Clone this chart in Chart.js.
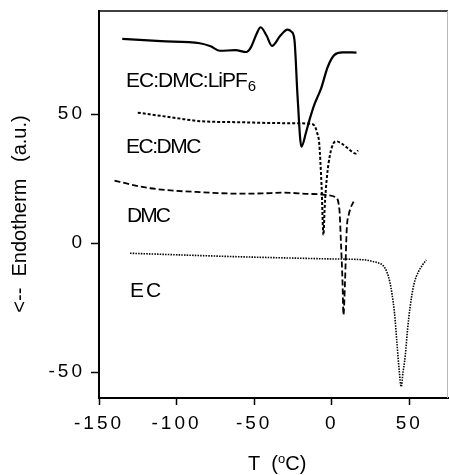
<!DOCTYPE html>
<html>
<head>
<meta charset="utf-8">
<script src="https://cdn.jsdelivr.net/npm/chart.js@4"></script>
<style>
  html, body { margin: 0; padding: 0; background: #fff; }
  #wrap { width: 449px; height: 475px; position: relative; }
</style>
</head>
<body>
<div id="wrap"><canvas id="dsc"></canvas></div>
<script>
// DSC traces, temperature in degC vs heat flow (a.u.)
var lipfT = [-135, -110, -85, -78, -72, -62, -55, -52, -48.5, -45.8, -42, -38.5, -33, -28.5, -26, -24, -22, -19.5, -16.5, -14.3, -11, -9, -6.8, -2.5, 1.8, 7, 16];
var lipfQ = [79.2, 78.3, 77.5, 76.3, 74.6, 74.8, 74.1, 76, 81, 83.7, 80.5, 76.5, 80.5, 82.8, 82, 78.8, 57, 37.4, 43, 47.8, 54, 56.8, 60, 68.4, 73, 74, 73.9];

var ecDmcT = [-125, -100, -85, -60, -40, -25, -14, -11, -9.5, -8, -6.5, -5.3, -4.5, -3, -1, 1, 3, 6, 10, 15.5, 17];
var ecDmcQ = [50.6, 48.5, 47.3, 46.9, 46.6, 46.5, 46.3, 45.5, 43, 38.5, 22, 3.2, 14, 26, 34.5, 38.5, 39.5, 38.8, 37, 34.8, 36];

var dmcT = [-140, -130, -117, -100, -85, -60, -45, -31, -15, -8, -2, 2.5, 5, 6, 7, 7.6, 8.6, 9.7, 11, 14.6];
var dmcQ = [24.3, 22.8, 21.3, 20.3, 19.8, 19.2, 19.3, 19.6, 19.1, 19, 18.6, 17.8, 13, 0, -15, -27.8, -15, 5.3, 11, 16.8];

var ecT = [-130, -100, -63, -30, 0, 22, 26.5, 30, 33, 35.5, 37.5, 39, 40.5, 42, 43.5, 44.8, 46, 47.4, 49, 50.5, 53, 56, 58.5, 61];
var ecQ = [-3.9, -4.5, -5.2, -5.7, -6.1, -6.5, -7.1, -7.6, -8.6, -11, -15, -20, -27, -38, -49, -55.6, -50, -43.9, -33, -25, -16, -11, -8.5, -6.5];

var xTicks = [-150, -100, -50, 0, 50];
var yTicks = [-50, 0, 50];

var FONT = '"Liberation Sans", Arial, Helvetica, sans-serif';

function pts(xs, ys) {
  return xs.map(function (x, i) { return { x: x, y: ys[i] }; });
}

// curve labels drawn beside the traces
var curveLabels = [
  { text: 'EC:DMC:LiPF', sub: '6', x: 126, y: 87, spacing: -1 },
  { text: 'EC:DMC', x: 126, y: 153, spacing: -1.5 },
  { text: 'DMC', x: 127, y: 222, spacing: -2 },
  { text: 'EC', x: 130, y: 297, spacing: 2 }
];

var frameAndText = {
  id: 'frameAndText',
  beforeDraw: function (chart) {
    chart.ctx.letterSpacing = '3px';
  },
  afterDraw: function (chart) {
    var ctx = chart.ctx, a = chart.chartArea;
    ctx.save();
    ctx.letterSpacing = '0px';
    // top and right edge of the frame
    ctx.strokeStyle = '#000';
    ctx.lineWidth = 1.5;
    ctx.beginPath();
    ctx.moveTo(a.left, a.top);
    ctx.lineTo(a.right, a.top);
    ctx.stroke();
    ctx.strokeStyle = '#bbb';
    ctx.lineWidth = 1;
    ctx.beginPath();
    ctx.moveTo(a.right - 0.5, a.top);
    ctx.lineTo(a.right - 0.5, a.bottom);
    ctx.stroke();

    ctx.fillStyle = '#000';
    ctx.textBaseline = 'alphabetic';
    ctx.textAlign = 'left';
    curveLabels.forEach(function (l) {
      ctx.font = '21px ' + FONT;
      ctx.letterSpacing = l.spacing + 'px';
      ctx.fillText(l.text, l.x, l.y);
      if (l.sub) {
        var w = ctx.measureText(l.text).width;
        ctx.font = '15px ' + FONT;
        ctx.letterSpacing = '0px';
        ctx.fillText(l.sub, l.x + w + 1, l.y + 4);
      }
    });

    // x axis title with superscript degree mark
    ctx.letterSpacing = '0px';
    ctx.font = '20px ' + FONT;
    var x = 248, base = 470;
    ctx.fillText('T  (', x, base);
    x += ctx.measureText('T  (').width;
    ctx.font = '13px ' + FONT;
    ctx.fillText('o', x, base - 7);
    x += ctx.measureText('o').width;
    ctx.font = '20px ' + FONT;
    ctx.fillText('C)', x, base);

    // y axis title
    ctx.translate(26, 214);
    ctx.rotate(-Math.PI / 2);
    ctx.textAlign = 'center';
    ctx.fillText('<--  Endotherm   (a.u.)', 0, 0);
    ctx.restore();
  }
};

function line(data, width, dash) {
  return {
    data: data,
    borderColor: '#000',
    borderWidth: width,
    borderDash: dash,
    pointRadius: 0,
    fill: false,
    cubicInterpolationMode: 'monotone'
  };
}

new Chart(document.getElementById('dsc'), {
  type: 'line',
  data: {
    datasets: [
      line(pts(lipfT, lipfQ), 2.2, []),
      line(pts(ecDmcT, ecDmcQ), 2, [3, 2]),
      line(pts(dmcT, dmcQ), 1.8, [6, 3]),
      line(pts(ecT, ecQ), 1.6, [1.5, 1.2])
    ]
  },
  options: {
    responsive: true,
    maintainAspectRatio: false,
    animation: false,
    layout: { padding: { top: 11, right: 1, left: 0, bottom: 0 } },
    plugins: { legend: { display: false }, tooltip: { enabled: false } },
    scales: {
      x: {
        type: 'linear',
        min: -150,
        max: 75,
        afterBuildTicks: function (s) { s.ticks = xTicks.map(function (v) { return { value: v }; }); },
        afterFit: function (s) { s.height = 77; s.paddingLeft = 0; s.paddingRight = 0; },
        grid: { drawOnChartArea: false, tickLength: 7, tickColor: '#000', tickWidth: 1.5 },
        border: { color: '#000', width: 2 },
        ticks: { color: '#000', font: { size: 19, family: FONT }, padding: 7, maxRotation: 0 }
      },
      y: {
        min: -60,
        max: 90,
        afterBuildTicks: function (s) { s.ticks = yTicks.map(function (v) { return { value: v }; }); },
        afterFit: function (s) { s.width = 99; s.paddingTop = 0; s.paddingBottom = 0; },
        grid: { drawOnChartArea: false, tickLength: 8, tickColor: '#000', tickWidth: 1.5 },
        border: { color: '#000', width: 2 },
        ticks: { color: '#000', font: { size: 19, family: FONT }, padding: 6 }
      }
    }
  },
  plugins: [frameAndText]
});
</script>
</body>
</html>
